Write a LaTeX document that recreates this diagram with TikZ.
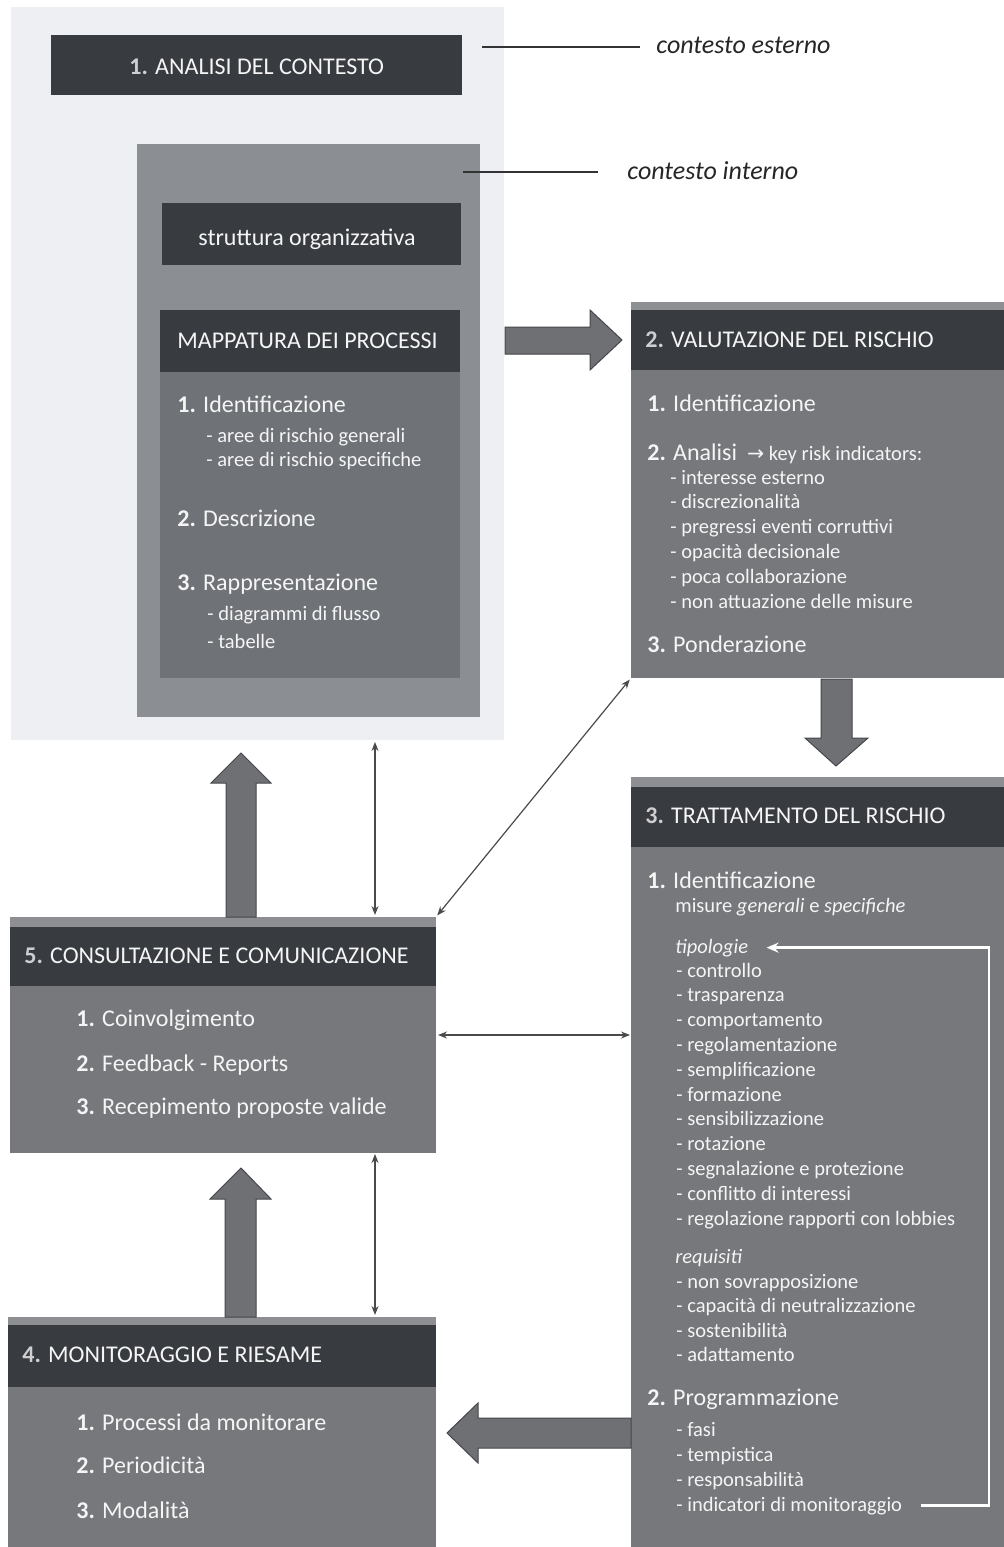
\documentclass[tikz,border=0pt]{standalone}
\usepackage{fontspec}
\setmainfont{Carlito}
\newfontfamily\symf{DejaVu Sans}
\usetikzlibrary{arrows.meta}
\definecolor{outerbg}{HTML}{EDEFF2}
\definecolor{innerbg}{HTML}{8B8E93}
\definecolor{darkhd}{HTML}{383B40}
\definecolor{mapbg}{HTML}{6F7277}
\definecolor{boxbg}{HTML}{76787C}
\definecolor{stripbg}{HTML}{8D8F93}
\definecolor{arrfill}{HTML}{6E7074}
\definecolor{arrline}{HTML}{45474B}
\definecolor{txtc}{HTML}{F5F5F5}
\definecolor{numc}{HTML}{CFCFD1}
\definecolor{linec}{HTML}{4A4A4A}
\tikzset{
 panel/.style={inner sep=0pt, outer sep=0pt, anchor=north west, draw=none},
 big/.style={font=\fontsize{12}{14}\selectfont, text=txtc, inner sep=0pt, anchor=base west},
 small/.style={font=\fontsize{10.25}{12}\selectfont, text=txtc, inner sep=0pt, anchor=base west},
 note/.style={font=\fontsize{13}{15}\selectfont\itshape, text=black!85, inner sep=0pt, anchor=base west},
 blockarrow/.style={fill=arrfill, draw=arrline, line width=0.5pt, line join=miter},
 thinarrow/.style={draw=linec, line width=0.6pt, {Stealth[length=4.5pt,width=3.5pt]}-{Stealth[length=4.5pt,width=3.5pt]}},
 looparrow/.style={draw=white, line width=1.2pt, -{Stealth[length=6pt,width=5pt]}},
 noteline/.style={draw=black!80, line width=0.7pt},
}
\newcommand{\hn}[1]{{\bfseries\color{numc}#1}}
\newcommand{\bn}[1]{{\bfseries #1}}
\begin{document}
\begin{tikzpicture}[x=0.5pt,y=-0.5pt]
\useasboundingbox (0,0) rectangle (1004,1547);
\path[fill=white] (0,0) rectangle (1004,1547);

% ---------- context panels ----------
\node[panel, fill=outerbg, minimum width=246.5pt, minimum height=366.5pt] (outer) at (11,7) {};
\node[panel, fill=darkhd, minimum width=205.5pt, minimum height=30pt] (analisi) at (51,35) {};
\node[big] (t-an) at (129,74) {\hn{1.} ANALISI DEL CONTESTO};
\node[panel, fill=innerbg, minimum width=171.5pt, minimum height=286.5pt] (inner) at (137,144) {};
\node[panel, fill=darkhd, minimum width=149.5pt, minimum height=31pt] (strutt) at (162,203) {};
\node[big] (t-so) at (198,245) {struttura organizzativa};
\node[panel, fill=mapbg, minimum width=150pt, minimum height=184pt] (map) at (160,310) {};
\node[panel, fill=darkhd, minimum width=150pt, minimum height=31pt] (maphead) at (160,310) {};
\node[big] (t-mp) at (177,348) {MAPPATURA DEI PROCESSI};
\node[big] (mp1) at (177,412) {\bn{1.} Identificazione};
\node[small] (mp1a) at (206,442) {- aree di rischio generali};
\node[small] (mp1b) at (206,466) {- aree di rischio specifiche};
\node[big] (mp2) at (177,526) {\bn{2.} Descrizione};
\node[big] (mp3) at (177,590) {\bn{3.} Rappresentazione};
\node[small] (mp3a) at (207,620) {- diagrammi di flusso};
\node[small] (mp3b) at (207,648) {- tabelle};

% notes
\node[note] (t-ce) at (656,54) {contesto esterno};
\coordinate (ce0) at (482,47);
\draw[noteline] (ce0) -- (ce0 -| t-ce.west) [shorten >=8pt];
\node[note] (t-ci) at (627,179) {contesto interno};
\coordinate (ci0) at (463,172);
\draw[noteline, shorten >=14.5pt] (ci0) -- (ci0 -| t-ci.west);

% ---------- 2. valutazione ----------
\node[panel, fill=boxbg, minimum width=186.5pt, minimum height=188pt] (val) at (631,302) {};
\node[panel, fill=stripbg, minimum width=186.5pt, minimum height=4pt] (valstrip) at (631,302) {};
\node[panel, fill=darkhd, minimum width=186.5pt, minimum height=30pt] (valhead) at (631,310) {};
\node[big] (t-va) at (645,347) {\hn{2.} VALUTAZIONE DEL RISCHIO};
\node[big] (va1) at (647,411) {\bn{1.} Identificazione};
\node[big] (va2) at (647,460) {\bn{2.} Analisi {\fontsize{10.25}{12}\selectfont\ {\symf →} key risk indicators:}};
\foreach \t [count=\i] in {interesse esterno, discrezionalità, pregressi eventi corruttivi, opacità decisionale, poca collaborazione, non attuazione delle misure}
  \node[small] (vs\i) at (670,{484+24.8*(\i-1)}) {- \t};
\node[big] (va3) at (647,652) {\bn{3.} Ponderazione};

% ---------- 3. trattamento ----------
\node[panel, fill=boxbg, minimum width=186.5pt, minimum height=385pt] (trat) at (631,777) {};
\node[panel, fill=stripbg, minimum width=186.5pt, minimum height=5pt] (tratstrip) at (631,777) {};
\node[panel, fill=darkhd, minimum width=186.5pt, minimum height=30pt] (trathead) at (631,787) {};
\node[big] (t-tr) at (645,823) {\hn{3.} TRATTAMENTO DEL RISCHIO};
\node[big] (tr1) at (647,888) {\bn{1.} Identificazione};
\node[small] (tr1m) at (675,912) {misure \textit{generali} e \textit{specifiche}};
\node[small, font=\fontsize{10.25}{12}\selectfont\itshape] (tipo) at (675,953) {tipologie};
\foreach \t [count=\i] in {controllo, trasparenza, comportamento, regolamentazione, semplificazione, formazione, sensibilizzazione, rotazione, segnalazione e protezione, conflitto di interessi, regolazione rapporti con lobbies}
  \node[small] (ta\i) at (676,{977+24.8*(\i-1)}) {- \t};
\node[small, font=\fontsize{10.25}{12}\selectfont\itshape] (requ) at (675,1263) {requisiti};
\foreach \t [count=\i] in {non sovrapposizione, capacità di neutralizzazione, sostenibilità, adattamento}
  \node[small] (tb\i) at (676,{1288+24.5*(\i-1)}) {- \t};
\node[big] (tr2) at (647,1405) {\bn{2.} Programmazione};
\foreach \t [count=\i] in {fasi, tempistica, responsabilità, indicatori di monitoraggio}
  \node[small] (tc\i) at (676,{1436+25*(\i-1)}) {- \t};
\coordinate (lpx) at (989,0);
\draw[looparrow] ([xshift=9pt]tc4.east) -| (lpx |- tipo.east) -- ([xshift=9pt]tipo.east);

% ---------- 5. consultazione ----------
\node[panel, fill=boxbg, minimum width=213pt, minimum height=118pt] (cons) at (10,917) {};
\node[panel, fill=stripbg, minimum width=213pt, minimum height=5pt] (consstrip) at (10,917) {};
\node[panel, fill=darkhd, minimum width=213pt, minimum height=29.5pt] (conshead) at (10,927) {};
\node[big] (t-co) at (24,963) {\hn{5.} CONSULTAZIONE E COMUNICAZIONE};
\node[big] (co1) at (76,1026) {\bn{1.} Coinvolgimento};
\node[big] (co2) at (76,1071) {\bn{2.} Feedback - Reports};
\node[big] (co3) at (76,1114) {\bn{3.} Recepimento proposte valide};

% ---------- 4. monitoraggio ----------
\node[panel, fill=boxbg, minimum width=214pt, minimum height=115pt] (mon) at (8,1317) {};
\node[panel, fill=stripbg, minimum width=214pt, minimum height=4pt] (monstrip) at (8,1317) {};
\node[panel, fill=darkhd, minimum width=214pt, minimum height=31pt] (monhead) at (8,1325) {};
\node[big] (t-mo) at (22,1362) {\hn{4.} MONITORAGGIO E RIESAME};
\node[big] (mo1) at (76,1430) {\bn{1.} Processi da monitorare};
\node[big] (mo2) at (76,1473) {\bn{2.} Periodicità};
\node[big] (mo3) at (76,1518) {\bn{3.} Modalità};

% ---------- block arrows ----------
\draw[blockarrow] (505,327) -- (590,327) -- (590,310) -- (622,340) -- (590,370) -- (590,354) -- (505,354) -- cycle;
\draw[blockarrow] (821,679) -- (852,679) -- (852,738) -- (868,738) -- (836,766) -- (805,738) -- (821,738) -- cycle;
\draw[blockarrow] (226,917) -- (226,783) -- (211,783) -- (241,753) -- (271,783) -- (256,783) -- (256,917) -- cycle;
\draw[blockarrow] (225,1317) -- (225,1199) -- (210,1199) -- (241,1168) -- (271,1199) -- (256,1199) -- (256,1317) -- cycle;
\draw[blockarrow] (631,1418) -- (478,1418) -- (478,1403) -- (447,1433) -- (478,1463) -- (478,1448) -- (631,1448) -- cycle;

% ---------- thin double arrows ----------
\coordinate (vx) at (375,0);
\coordinate (hy) at (0,1035);
\draw[thinarrow, shorten <=1pt, shorten >=1pt] (outer.south -| vx) -- (cons.north -| vx);
\draw[thinarrow, shorten <=1pt, shorten >=1pt] (val.south west) -- (cons.north east);
\draw[thinarrow, shorten <=1pt, shorten >=0.5pt] (cons.east |- hy) -- (trat.west |- hy);
\draw[thinarrow, shorten <=0.5pt, shorten >=1pt] (cons.south -| vx) -- (mon.north -| vx);
\end{tikzpicture}
\end{document}
